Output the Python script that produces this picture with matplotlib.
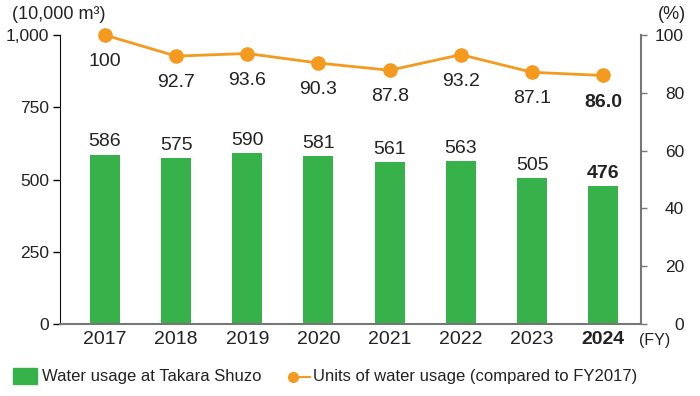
import matplotlib.pyplot as plt
import numpy as np

plt.rcParams['font.family'] = ['Liberation Sans Narrow', 'Liberation Sans', 'DejaVu Sans']

years = ['2017', '2018', '2019', '2020', '2021', '2022', '2023', '2024']
water_usage = [586, 575, 590, 581, 561, 563, 505, 476]
units_pct = [100, 92.7, 93.6, 90.3, 87.8, 93.2, 87.1, 86.0]
unit_labels = ['100', '92.7', '93.6', '90.3', '87.8', '93.2', '87.1', '86.0']

green = '#37b24b'
orange = '#f39a1f'
gray = '#777777'
txt = '#222222'

fig = plt.figure(figsize=(7, 3.96), dpi=100)
ax = fig.add_axes([0.0857, 0.1818, 0.83, 0.7298])
ax2 = ax.twinx()

x = np.arange(len(years))
ax.bar(x, water_usage, width=0.42, color=green, zorder=2)
ax.set_xlim(-0.63, 7.53)
ax.set_ylim(0, 1000)
ax.set_yticks([0, 250, 500, 750, 1000])
ax.set_yticklabels(['0', '250', '500', '750', '1,000'])
ax.set_xticks(x)
ax.set_xticklabels(years)
for i, lab in enumerate(ax.get_xticklabels()):
    if i == len(years) - 1:
        lab.set_fontweight('bold')
ax.tick_params(axis='x', length=0, pad=5, labelsize=14, labelcolor=txt)
ax.tick_params(axis='y', length=5, width=1, labelsize=12.5, pad=3, labelcolor=txt)

for i, v in enumerate(water_usage):
    bold = i == len(years) - 1
    ax.annotate(str(v), (x[i], v), xytext=(0, 3), textcoords='offset points',
                ha='center', va='bottom', fontsize=14,
                fontweight='bold' if bold else 'normal', color=txt)

ax2.plot(x, units_pct, color=orange, lw=2, marker='o', ms=9.5, zorder=3, clip_on=False)
ax2.set_ylim(0, 100)
ax2.set_yticks([0, 20, 40, 60, 80, 100])
ax2.tick_params(axis='y', length=4, width=1, labelsize=12.5, pad=27, labelcolor=txt, color=gray)
for lab in ax2.get_yticklabels():
    lab.set_horizontalalignment('right')
for i, v in enumerate(units_pct):
    bold = i == len(years) - 1
    ax2.annotate(unit_labels[i], (x[i], v), xytext=(0, -13), textcoords='offset points',
                 ha='center', va='top', fontsize=14,
                 fontweight='bold' if bold else 'normal', color=txt)

for a in (ax, ax2):
    a.spines['top'].set_visible(False)
ax.spines['left'].set_color('#111111')
ax.spines['right'].set_visible(False)
ax2.spines['left'].set_visible(False)
ax2.spines['right'].set_color(gray)
ax2.spines['right'].set_linewidth(1.5)
ax.spines['bottom'].set_color(gray)
ax.spines['bottom'].set_linewidth(1.5)
ax2.spines['bottom'].set_visible(False)

fig.text(0.017, 0.985, '(10,000 m\u00b3)', fontsize=13, va='top', color=txt)
fig.text(0.98, 0.985, '(%)', fontsize=13, va='top', ha='right', color=txt)
fig.text(0.913, 0.14, '(FY)', fontsize=11.5, va='center', ha='left', color=txt)

# legend
fig.patches.append(plt.Rectangle((0.019, 0.03), 0.034, 0.04, transform=fig.transFigure,
                                 color=green, figure=fig))
fig.text(0.06, 0.048, 'Water usage at Takara Shuzo', fontsize=12, va='center', color=txt)
fig.lines.append(plt.Line2D([0.419, 0.443], [0.048, 0.048], transform=fig.transFigure,
                            color=orange, lw=1.5, figure=fig))
fig.lines.append(plt.Line2D([0.419], [0.048], transform=fig.transFigure, marker='o', ms=7,
                            color=orange, figure=fig))
fig.text(0.447, 0.048, 'Units of water usage (compared to FY2017)', fontsize=12,
         va='center', color=txt)

fig.savefig('out.png', dpi=100)
